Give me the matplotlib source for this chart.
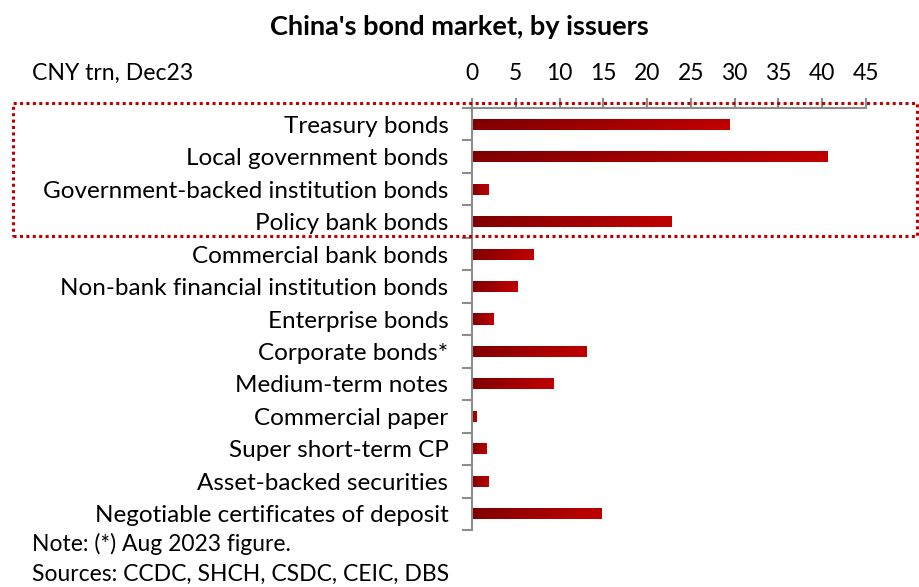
import numpy as np
import matplotlib
matplotlib.use("Agg")
import matplotlib.pyplot as plt
from matplotlib.colors import LinearSegmentedColormap
from matplotlib.patches import Rectangle

plt.rcParams["font.family"] = ["Lato", "DejaVu Sans"]

# === Данные (CNY трлн, дек. 2023) ===
issuers = [
    "Treasury bonds",
    "Local government bonds",
    "Government-backed institution bonds",
    "Policy bank bonds",
    "Commercial bank bonds",
    "Non-bank financial institution bonds",
    "Enterprise bonds",
    "Corporate bonds*",
    "Medium-term notes",
    "Commercial paper",
    "Super short-term CP",
    "Asset-backed securities",
    "Negotiable certificates of deposit",
]
outstanding = [29.4, 40.6, 1.9, 22.8, 7.0, 5.2, 2.5, 13.1, 9.3, 0.5, 1.7, 1.9, 14.8]
x_ticks = [0, 5, 10, 15, 20, 25, 30, 35, 40, 45]

grey = "#8c8c8c"
red_cmap = LinearSegmentedColormap.from_list("bar_red", ["#7a0000", "#c40000"])

fig = plt.figure(figsize=(9.19, 5.87), dpi=100)
ax = fig.add_axes([472 / 919, 1 - 530 / 587, (866 - 472) / 919, (530 - 108) / 587])

y = np.arange(len(issuers))
bars = ax.barh(y, outstanding, height=0.34, color="none", edgecolor="none")

# градиент внутри каждого столбика
gx = np.linspace(0, 1, 128)
gy = np.linspace(0, 1, 16)
grad = 0.85 * gx[None, :] + 0.15 * gy[:, None]
for b in bars:
    x0, y0 = b.get_x(), b.get_y()
    w, h = b.get_width(), b.get_height()
    im = ax.imshow(grad, cmap=red_cmap, aspect="auto", interpolation="bicubic",
                   extent=(x0, x0 + w, y0 + h, y0), zorder=2)
    im.set_clip_path(b)

ax.set_xlim(0, 45)
ax.set_ylim(len(issuers) - 0.5, -0.5)

# ось X сверху
ax.xaxis.set_ticks_position("top")
ax.xaxis.set_label_position("top")
ax.set_xticks(x_ticks)
ax.tick_params(axis="x", direction="out", length=7, width=1.5, color=grey,
               labelsize=16.5, pad=10)

# ось Y: подписи по центрам, засечки на границах категорий
ax.set_yticks(y)
ax.set_yticklabels(issuers)
ax.set_yticks(np.arange(len(issuers) + 1) - 0.5, minor=True)
ax.tick_params(axis="y", which="major", length=0, labelsize=17.5, pad=17)
ax.tick_params(axis="y", which="minor", direction="out", length=7, width=1.5, color=grey)

for side in ["right", "bottom"]:
    ax.spines[side].set_visible(False)
for side in ["top", "left"]:
    ax.spines[side].set_color(grey)
    ax.spines[side].set_linewidth(1.5)

ax.set_facecolor("white")

fig.text(0.5, 1 - 27 / 587, "China's bond market, by issuers", ha="center", va="center",
         fontsize=19.5, fontweight="bold")
fig.text(32 / 919, 1 - 73 / 587, "CNY trn, Dec23", ha="left", va="center", fontsize=16.6)
fig.text(32 / 919, 1 - 544 / 587, "Note: (*) Aug 2023 figure.", ha="left", va="center",
         fontsize=16.5)
fig.text(32 / 919, 1 - 574 / 587, "Sources: CCDC, SHCH, CSDC, CEIC, DBS", ha="left",
         va="center", fontsize=16.5)

# пунктирная рамка вокруг государственных выпусков
frame = Rectangle((13 / 919, 1 - 236 / 587), (917 - 13) / 919, (236 - 103) / 587,
                  transform=fig.transFigure, fill=False, edgecolor="#c00000",
                  linewidth=2.2, linestyle=(0, (1, 1.1)), clip_on=False, zorder=5)
fig.patches.append(frame)

fig.savefig("out.png", dpi=100, facecolor="white")
